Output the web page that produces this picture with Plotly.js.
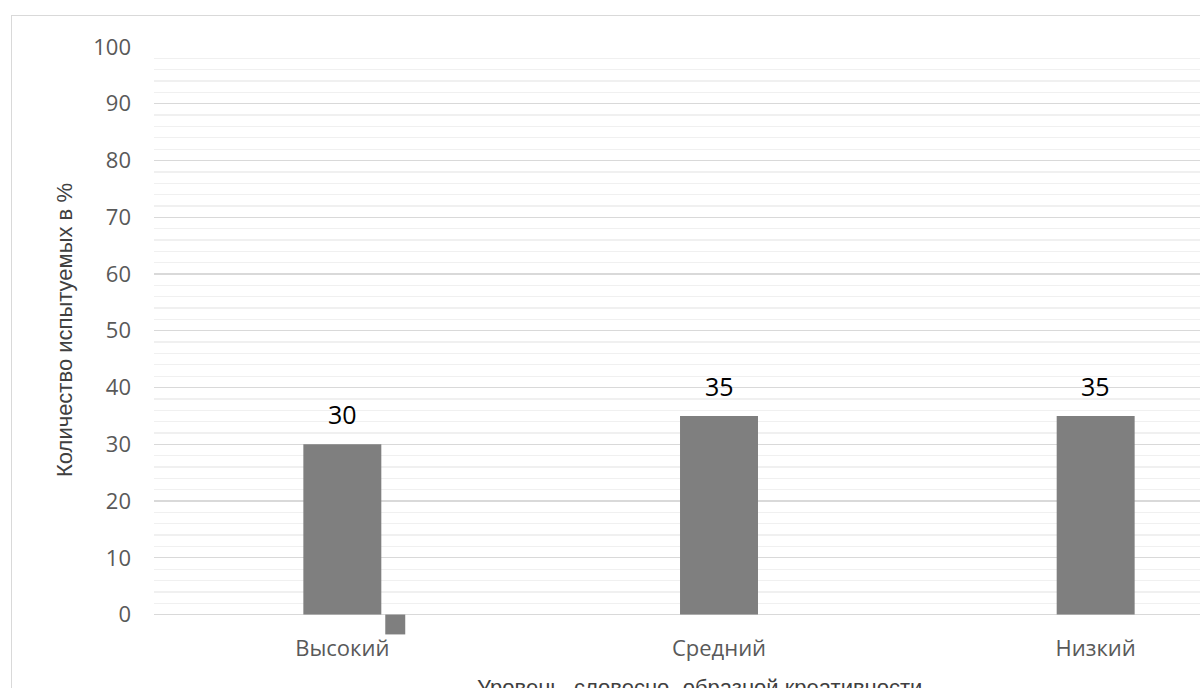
<!DOCTYPE html>
<html>
<head>
<meta charset="utf-8">
<script src="https://cdn.plot.ly/plotly-3.0.1.min.js"></script>
<style>
html, body { margin: 0; padding: 0; overflow: hidden; background: #ffffff; width: 1200px; height: 688px; }
#chart { position: absolute; left: 11px; top: 15px; width: 1300px; height: 720px; border: 1.5px solid #d9d9d9; }
</style>
</head>
<body>
<div id="chart"></div>
<script>
// Data
const categories = ["Высокий", "Средний", "Низкий"];
const values = [30, 35, 35];
const series2Categories = ["Высокий"];
const series2Values = [-3.5];
const yTickValues = [0, 10, 20, 30, 40, 50, 60, 70, 80, 90, 100];
const yAxisTitle = "Количество испытуемых в %";
const xAxisTitle = "Уровень  словесно- образной креативности";

const barColor = "#7f7f7f";
const catIndex = c => categories.indexOf(c);

const minorVals = [];
for (let v = 2; v < 100; v += 2) { if (v % 10 !== 0) minorVals.push(v); }

const traces = [
  {
    type: "bar",
    x: categories.map(catIndex),
    y: values,
    width: 0.207,
    marker: { color: barColor },
    hoverinfo: "skip",
    showlegend: false
  },
  {
    type: "bar",
    x: series2Categories.map(catIndex),
    y: series2Values,
    width: 0.053,
    offset: 0.114,
    marker: { color: barColor },
    hoverinfo: "skip",
    showlegend: false
  }
];

const annotations = categories.map((c, i) => ({
  x: catIndex(c),
  y: values[i],
  xref: "x",
  yref: "y",
  text: String(values[i]),
  showarrow: false,
  yanchor: "middle",
  yshift: 30,
  font: { family: "Open Sans, sans-serif", size: 25, color: "#000000" }
}));

annotations.push({
  xref: "paper", yref: "paper",
  x: 0, y: 0.5 + 11 / 589,
  xanchor: "center", yanchor: "middle",
  xshift: -90,
  textangle: -90,
  text: yAxisTitle,
  showarrow: false,
  font: { family: "Liberation Sans, Arial, sans-serif", size: 22, color: "#404040" }
});

annotations.push({
  xref: "paper", yref: "paper",
  x: 0.5, y: 0,
  xanchor: "center", yanchor: "top",
  xshift: -20,
  yshift: -38,
  text: xAxisTitle,
  showarrow: false,
  font: { family: "Liberation Sans, Arial, sans-serif", size: 22, color: "#404040" }
});

const layout = {
  width: 1300,
  height: 720,
  margin: { l: 141.5, r: 27.5, t: 31, b: 100.6 },
  paper_bgcolor: "#ffffff",
  plot_bgcolor: "#ffffff",
  barmode: "overlay",
  showlegend: false,
  font: { family: "Open Sans, sans-serif", color: "#595959", size: 22 },
  xaxis: {
    range: [-0.5, 2.5],
    tickmode: "array",
    tickvals: categories.map(catIndex),
    ticktext: categories,
    showgrid: false,
    zeroline: false,
    showline: false,
    ticks: "",
    ticklabelstandoff: -2,
    tickfont: { family: "Open Sans, sans-serif", size: 22, color: "#595959" },
    automargin: false
  },
  yaxis: {
    range: [-3.6, 100],
    tickmode: "array",
    tickvals: yTickValues,
    showgrid: true,
    gridcolor: "#d9d9d9",
    gridwidth: 1.3,
    zeroline: true,
    zerolinecolor: "#d9d9d9",
    zerolinewidth: 1.3,
    showline: false,
    ticks: "",
    ticklabelstandoff: 22,
    tickfont: { family: "Open Sans, sans-serif", size: 22, color: "#595959" },
    minor: { tickmode: "array", tickvals: minorVals, showgrid: true, gridcolor: "#f0f0f0", gridwidth: 1.3 },
    automargin: false
  },
  annotations: annotations
};

Plotly.newPlot("chart", traces, layout, { staticPlot: true, displayModeBar: false });
</script>
</body>
</html>
